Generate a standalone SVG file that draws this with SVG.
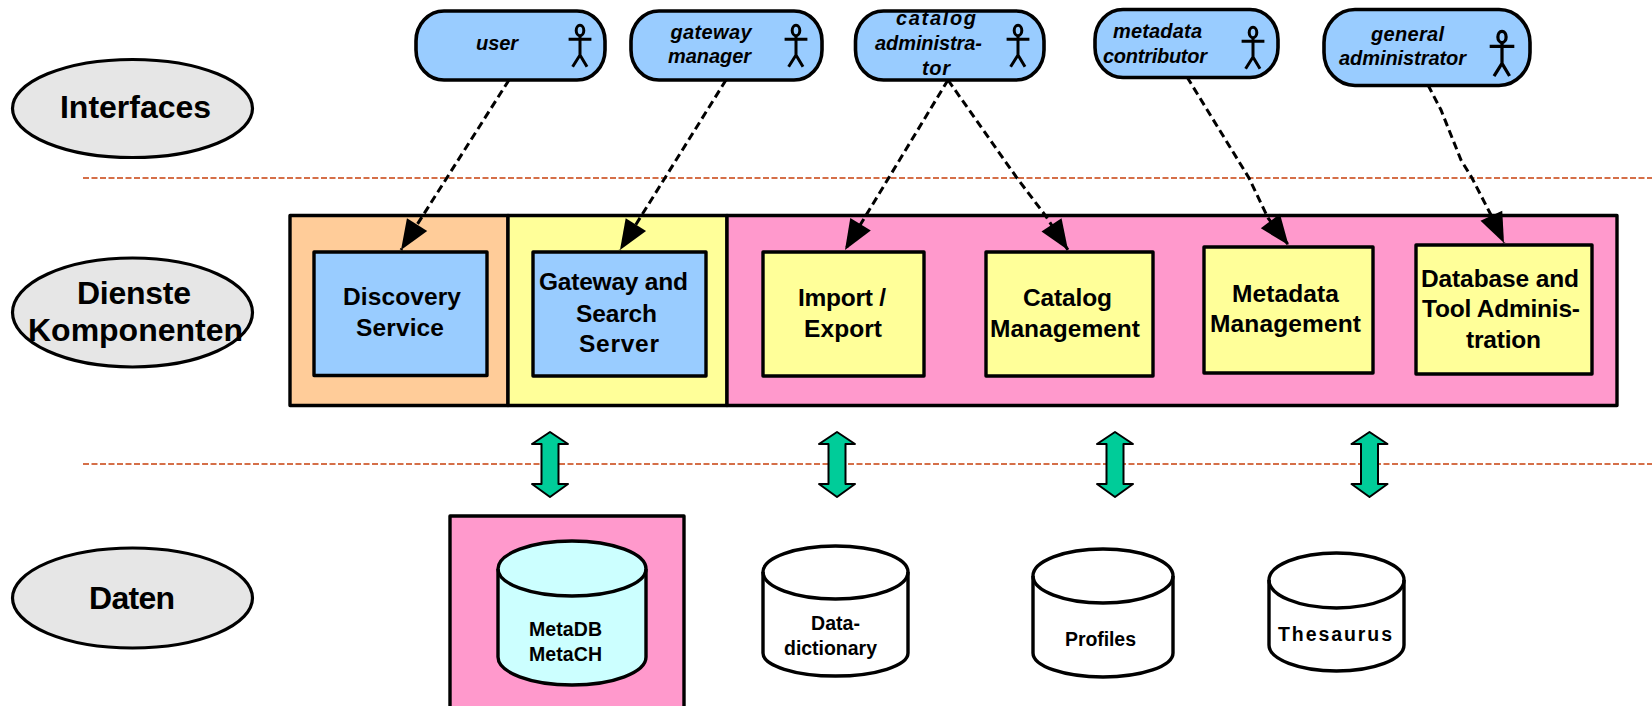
<svg xmlns="http://www.w3.org/2000/svg" width="1652" height="706" viewBox="0 0 1652 706">
<style>
text{font-family:"Liberation Sans",Arial,sans-serif;font-weight:bold;fill:#000}
.lay{font-size:32px}
.box{font-size:24.5px}
.act{font-size:20px;font-style:italic}
.db{font-size:19.5px}
.n{stroke:#000;stroke-width:3.4;stroke-linejoin:round}
.el{fill:#E6E6E6;stroke:#000;stroke-width:3.2}
.pill{fill:#99CCFF;stroke:#000;stroke-width:3.6}
.blue{fill:#99CCFF}.yel{fill:#FFFF99}.pink{fill:#FF99CC}.org{fill:#FFCC99}.cy{fill:#CCFFFF}.wh{fill:#FFF}
.sep{stroke:#C8400C;stroke-width:1.5;stroke-dasharray:6 2.5;fill:none}
.dep{stroke:#000;stroke-width:3;stroke-dasharray:8 4.5;fill:none;marker-end:url(#ah)}
.dbl{fill:#00CC99;stroke:#000;stroke-width:2;stroke-linejoin:round}
.fig{fill:none;stroke:#000;stroke-width:3}
.cyl{stroke:#000;stroke-width:3.4;stroke-linejoin:round}
.top{fill:none;stroke:#000;stroke-width:3.4}
</style>
<defs>
<marker id="ah" markerUnits="userSpaceOnUse" markerWidth="34" markerHeight="30" refX="31" refY="15" orient="auto">
<path d="M31 15L1 3L1 27Z" fill="#000"/>
</marker>
<g id="actor" class="fig">
<ellipse cx="0" cy="5.5" rx="3.8" ry="5.2"/>
<path d="M-11.4 14.3H11.4M0 11V30M-7.4 41.7L0 30L7 41.7"/>
</g>
<path id="dblarrow" d="M0 0L18 12H8.500V52H18L0 65L-18 52H-8.500V12H-18Z" class="dbl"/>
</defs>

<g id="separators">
<line class="sep" x1="83" y1="178" x2="1652" y2="178"/>
<line class="sep" x1="83" y1="464" x2="1652" y2="464"/>
</g>

<g id="layer-interfaces"><ellipse class="el" cx="132.500" cy="108.500" rx="120" ry="49"/>
<text class="lay" x="60" y="118" textLength="151">Interfaces</text></g>
<g id="layer-dienste"><ellipse class="el" cx="132.500" cy="312.500" rx="120" ry="54.500"/>
<text class="lay" x="77" y="304" textLength="114">Dienste</text>
<text class="lay" x="28" y="341" textLength="215">Komponenten</text></g>
<g id="layer-daten"><ellipse class="el" cx="132.500" cy="598" rx="120" ry="50"/>
<text class="lay" x="89" y="609" textLength="86">Daten</text></g>

<g id="service-band">
<rect class="n org" x="290" y="215.500" width="218" height="190"/>
<rect class="n yel" x="508" y="215.500" width="219" height="190"/>
<rect class="n pink" x="727" y="215.500" width="890" height="190"/>
</g>

<g id="discovery"><rect class="n blue" x="314" y="252" width="173" height="123.500"/>
<text class="box" x="343" y="305" textLength="118">Discovery</text>
<text class="box" x="356" y="336" textLength="88">Service</text></g>
<g id="gateway"><rect class="n blue" x="533" y="252" width="173" height="124"/>
<text class="box" x="539" y="290" textLength="149">Gateway and</text>
<text class="box" x="576" y="322" textLength="81">Search</text>
<text class="box" x="579" y="352" textLength="80">Server</text></g>
<g id="import"><rect class="n yel" x="763" y="252" width="161" height="124"/>
<text class="box" x="798" y="306" textLength="88">Import /</text>
<text class="box" x="804" y="337" textLength="78">Export</text></g>
<g id="catalog"><rect class="n yel" x="986" y="252" width="167" height="124"/>
<text class="box" x="1023" y="306" textLength="89">Catalog</text>
<text class="box" x="990" y="337" textLength="150">Management</text></g>
<g id="metadata"><rect class="n yel" x="1204" y="247" width="169" height="126"/>
<text class="box" x="1232" y="302" textLength="107">Metadata</text>
<text class="box" x="1210" y="332" textLength="151">Management</text></g>
<g id="dbtool"><rect class="n yel" x="1416" y="245" width="176" height="129"/>
<text class="box" x="1421" y="287" textLength="158">Database and</text>
<text class="box" x="1422" y="317" textLength="158">Tool Adminis-</text>
<text class="box" x="1466" y="348" textLength="75">tration</text></g>

<g id="actor-user"><rect class="pill" x="416" y="11" width="189" height="69" rx="28" ry="30"/>
<text class="act" x="476" y="50" textLength="42">user</text>
<use href="#actor" x="580" y="25"/></g>
<g id="actor-gateway"><rect class="pill" x="631" y="11" width="191" height="69" rx="28" ry="30"/>
<text class="act" x="670.500" y="39" textLength="81">gateway</text>
<text class="act" x="668" y="63" textLength="83">manager</text>
<use href="#actor" x="796" y="25"/></g>
<g id="actor-catalog"><rect class="pill" x="855.500" y="11" width="188.500" height="69" rx="28" ry="30"/>
<text class="act" x="896" y="25" textLength="80">catalog</text>
<text class="act" x="875" y="50" textLength="107">administra-</text>
<text class="act" x="922" y="75" textLength="28">tor</text>
<use href="#actor" x="1018" y="25"/></g>
<g id="actor-contributor"><rect class="pill" x="1095" y="9.500" width="183" height="68" rx="28" ry="30"/>
<text class="act" x="1113" y="38" textLength="89">metadata</text>
<text class="act" x="1103" y="63" textLength="104">contributor</text>
<use href="#actor" x="1253" y="27"/></g>
<g id="actor-general"><rect class="pill" x="1324" y="9.500" width="206" height="76" rx="31" ry="33"/>
<text class="act" x="1371" y="41" textLength="73">general</text>
<text class="act" x="1339" y="65" textLength="127">administrator</text>
<use href="#actor" transform="translate(1502 31) scale(1.08)"/></g>

<g id="connectors">
<path class="dep" d="M509 80L401 250"/>
<path class="dep" d="M726 80L620 250"/>
<path class="dep" d="M948 80L845 250"/>
<path class="dep" d="M948 80L1017 178L1045 215L1068 250"/>
<path class="dep" d="M1187 77L1249 178L1268 218L1288.500 245"/>
<path class="dep" d="M1428 85L1441 110L1461 160L1472 178L1491 215L1504 243"/>
</g>

<g id="links">
<use href="#dblarrow" x="550" y="432"/>
<use href="#dblarrow" x="837" y="432"/>
<use href="#dblarrow" x="1115" y="432"/>
<use href="#dblarrow" x="1369.500" y="432"/>
</g>

<g id="metadb-frame"><rect class="n pink" x="450" y="516" width="234" height="196"/></g>
<g id="metadb">
<path class="cyl cy" d="M498 569A74 28 0 0 1 646 569V657A74 28 0 0 1 498 657Z"/>
<path class="top" d="M498 569A74 27 0 0 0 646 569"/>
<text class="db" x="529" y="636" textLength="73">MetaDB</text>
<text class="db" x="529" y="661" textLength="73">MetaCH</text></g>
<g id="datadict">
<path class="cyl wh" d="M763 572A72.500 26 0 0 1 908 572V653A72.500 23 0 0 1 763 653Z"/>
<path class="top" d="M763 572A72.500 27 0 0 0 908 572"/>
<text class="db" x="811" y="630" textLength="49">Data-</text>
<text class="db" x="784" y="655" textLength="93">dictionary</text></g>
<g id="profiles">
<path class="cyl wh" d="M1033 576A70 27 0 0 1 1173 576V653A70 24 0 0 1 1033 653Z"/>
<path class="top" d="M1033 576A70 27 0 0 0 1173 576"/>
<text class="db" x="1065" y="646" textLength="71">Profiles</text></g>
<g id="thesaurus">
<path class="cyl wh" d="M1269 580A67.500 27 0 0 1 1404 580V645A67.500 26 0 0 1 1269 645Z"/>
<path class="top" d="M1269 580A67.500 28 0 0 0 1404 580"/>
<text class="db" x="1278" y="641" textLength="114">Thesaurus</text></g>
</svg>
